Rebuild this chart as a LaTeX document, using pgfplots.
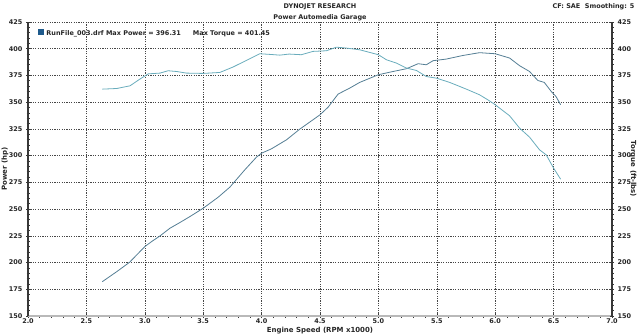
\documentclass[border=0pt]{standalone}
\usepackage{pgfplots}
\pgfplotsset{compat=1.18}
\usepackage{fontspec}
\setmainfont{DejaVu Sans}
\definecolor{tq}{RGB}{105,172,188}
\definecolor{pw}{RGB}{84,126,148}
\definecolor{axc}{RGB}{55,55,55}
\definecolor{gridc}{RGB}{70,70,70}
\definecolor{legb}{RGB}{30,90,140}
\pgfplotstableread{
rpm hp
2.636 182.1
2.76 191.5
2.87 200.3
2.958 210.2
3.0 214.9
3.058 219.6
3.13 224.9
3.215 232.1
3.30 237.4
3.386 243.0
3.5 250.8
3.628 261.1
3.728 270.5
3.856 286.7
3.956 298.6
4.0 302.3
4.085 306.4
4.213 314.8
4.327 324.8
4.5 338.2
4.57 345.4
4.655 357.6
4.755 363.2
4.84 368.5
5.0 375.7
5.125 378.7
5.24 381.3
5.34 386.0
5.41 385.0
5.468 388.8
5.58 390.3
5.724 393.7
5.866 396.3
6.0 395.3
6.123 391.3
6.209 384.1
6.294 378.7
6.365 370.3
6.42 368.5
6.48 360.0
6.52 355.4
6.56 347.6
}\powertable
\pgfplotstableread{
rpm tq
2.636 362.2
2.76 362.8
2.873 365.3
2.958 371.6
3.03 376.5
3.13 377.2
3.2 379.4
3.272 378.7
3.357 377.2
3.5 376.9
3.642 377.8
3.756 382.9
3.87 389.1
3.985 395.3
4.07 394.7
4.156 394.0
4.235 395.0
4.34 394.4
4.44 397.5
4.555 398.1
4.64 401.45
4.726 400.6
4.84 399.0
5.0 394.4
5.068 389.7
5.154 386.6
5.24 381.9
5.325 379.7
5.41 374.0
5.496 372.5
5.61 368.5
5.753 362.2
5.866 356.9
5.937 352.2
6.0 347.6
6.123 337.3
6.209 325.7
6.294 317.3
6.38 305.4
6.437 300.7
6.5 288.3
6.56 278.0
}\torquetable
\begin{document}
\begin{tikzpicture}[x=1bp,y=1bp]
\useasboundingbox (-28,-19) rectangle (612,316);
\pgfplotsset{
  common/.style={
    at={(0,0)}, anchor=south west,
    scale only axis, width=584bp, height=294bp,
    xmin=2, xmax=7, ymin=150, ymax=425,
    xtick={2,2.5,...,7}, minor x tick num=4,
    ytick={150,175,...,425}, minor y tick num=4,
    tick align=center,
    major tick length=4bp, minor tick length=3bp,
    tick style={axc, line width=0.6bp},
    ticklabel style={font=\fontsize{6.5}{7}\selectfont\bfseries, text=black!85},
    /pgf/number format/assume math mode=true,
    /pgf/number format/.cd, fixed, fixed zerofill, precision=0,
  },
}
\begin{axis}[common,
  axis x line*=bottom, axis y line*=left,
  x axis line style={-, draw=gray!55, line width=2.4bp},
  y axis line style={-, draw=axc, line width=1.4bp},
  xticklabel style={/pgf/number format/precision=1, yshift=2.5bp},
  grid=major,
  major grid style={gridc, dash pattern=on 1.2bp off 1.2bp, line width=0.55bp},
]
\addplot[pw, line width=0.8bp, no marks] table[x=rpm, y=hp] {\powertable};
\end{axis}
\begin{axis}[common,
  axis x line=none, axis y line*=right,
  y axis line style={-, draw=axc, line width=1.4bp},
]
\addplot[tq, line width=0.8bp, no marks] table[x=rpm, y=tq] {\torquetable};
\end{axis}
\begin{scope}[font=\fontsize{6.5}{7.5}\selectfont\bfseries, text=black!85]
\node at (292,309.5) {DYNOJET RESEARCH};
\node at (292,298) {Power Automedia Garage};
\node[anchor=east] at (610,309.5) {CF: SAE\ \ Smoothing: 5};
\node[anchor=west, inner sep=0pt] at (10,283) {\textcolor{legb}{\rule[-0.3bp]{6bp}{6bp}}\ RunFile\_003.drf Max Power = 396.31\hspace{12bp}Max Torque = 401.45};
\node at (292,-14.5) {\fontsize{7}{8}\selectfont Engine Speed (RPM x1000)};
\node[rotate=90] at (-23,147) {\fontsize{7}{8}\selectfont Power (hp)};
\node[rotate=-90] at (605,147) {\fontsize{7}{8}\selectfont Torque (ft-lbs)};
\end{scope}
\end{tikzpicture}
\end{document}
